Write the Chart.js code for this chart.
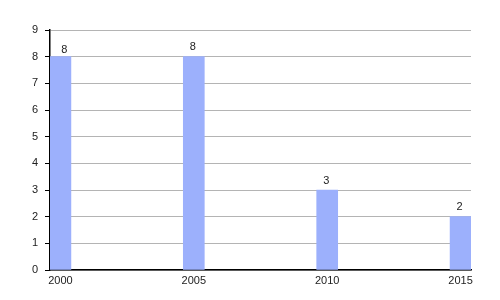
<!DOCTYPE html>
<html>
<head>
<meta charset="utf-8">
<script src="https://cdn.jsdelivr.net/npm/chart.js@4"></script>
<style>
  html, body { margin: 0; padding: 0; background: #fff; }
  #wrap { width: 500px; height: 300px; }
</style>
</head>
<body>
<div id="wrap"><canvas id="chart"></canvas></div>
<script>
// values
const years = [2000, 2005, 2010, 2015];
const counts = [8, 8, 3, 2];
const yTicks = [0, 1, 2, 3, 4, 5, 6, 7, 8, 9];

const BAR_COLOR = '#9cb0fc';
const BAR_PX = 21;

// value labels above each bar
const valueLabels = {
  id: 'valueLabels',
  afterDatasetsDraw(chart) {
    const ctx = chart.ctx;
    const meta = chart.getDatasetMeta(0);
    ctx.save();
    ctx.font = '11px "Liberation Sans", Arial, sans-serif';
    ctx.fillStyle = '#222';
    ctx.textAlign = 'center';
    ctx.textBaseline = 'bottom';
    meta.data.forEach((bar, i) => {
      // first label sits a bit right/lower in the reference, off the axis line
      const dx = i === 0 ? 4 : -1;
      const dy = i === 0 ? -1 : -4;
      ctx.fillText(String(counts[i]), bar.x + dx, bar.y + dy);
    });
    ctx.restore();
  }
};

new Chart(document.getElementById('chart'), {
  type: 'bar',
  data: {
    datasets: [{
      data: years.map((y, i) => ({ x: y, y: counts[i] })),
      backgroundColor: BAR_COLOR,
      borderWidth: 0,
      barThickness: BAR_PX,
    }],
  },
  options: {
    responsive: true,
    maintainAspectRatio: false,
    animation: false,
    layout: { padding: { left: 0, right: 29, top: 30, bottom: 0 } },
    plugins: { legend: { display: false }, tooltip: { enabled: false } },
    scales: {
      x: {
        type: 'linear',
        offset: false,
        min: 1999.61,
        max: 2015.39,
        afterBuildTicks: s => { s.ticks = years.map(v => ({ value: v })); },
        afterFit: s => { s.height = 30; },
        grid: { display: false, drawTicks: false, tickLength: 0 },
        border: { color: '#000', width: 1.5 },
        ticks: {
          color: '#222',
          padding: 4,
          font: { family: '"Liberation Sans", Arial, sans-serif', size: 11 },
          callback: v => String(v),
        },
      },
      y: {
        min: 0,
        max: 9,
        afterBuildTicks: s => { s.ticks = yTicks.map(v => ({ value: v })); },
        afterFit: s => { s.width = 50; },
        grid: { color: '#b4b4b4', tickColor: '#000', tickLength: 5 },
        border: { color: '#000', width: 1.5 },
        ticks: {
          color: '#222',
          padding: 7,
          font: { family: '"Liberation Sans", Arial, sans-serif', size: 11 },
        },
      },
    },
  },
  plugins: [valueLabels],
});
</script>
</body>
</html>
